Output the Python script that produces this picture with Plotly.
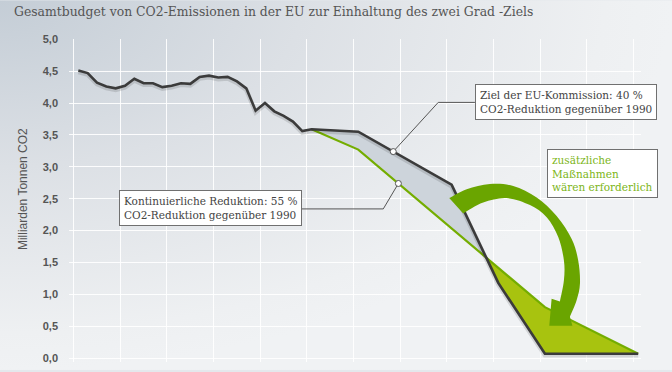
import base64
import numpy as np
import plotly.graph_objects as go

# ---------------- data ----------------
YEARS_HIST = list(range(1990, 2016))
EMISSIONS_HIST = [4.51, 4.47, 4.32, 4.26, 4.23, 4.27, 4.38, 4.31, 4.31, 4.25,
                  4.27, 4.31, 4.30, 4.41, 4.43, 4.40, 4.41, 4.34, 4.23, 3.88,
                  4.00, 3.87, 3.80, 3.71, 3.56, 3.59]

YEARS_EU = [2015, 2020, 2030, 2035, 2040, 2050]
EU_TARGET_PATH = [3.59, 3.55, 2.72, 1.18, 0.07, 0.07]

YEARS_LIN = [2015, 2020, 2040, 2050]
LINEAR_PATH = [3.59, 3.27, 0.80, 0.07]

Y_TICKS = [0, 0.5, 1, 1.5, 2, 2.5, 3, 3.5, 4, 4.5, 5]
X_GRID = [1989.5 + 5 * k for k in range(13)]

TITLE = "Gesamtbudget von CO2-Emissionen in der EU zur Einhaltung des zwei Grad -Ziels"
Y_TITLE = "Milliarden Tonnen CO2"
BOX_EU = "Ziel der EU-Kommission: 40 %<br>CO2-Reduktion gegenüber 1990"
BOX_LIN = "Kontinuierliche Reduktion: 55 %<br>CO2-Reduktion gegenüber 1990"
BOX_EXTRA = "zusätzliche<br>Maßnahmen<br>wären erforderlich"

# decorative curved arrow outline (year, value)
ARROW_OUTER = [(2029.75, 2.51), (2031.62, 2.65), (2034.11, 2.73), (2036.61, 2.70),
               (2039.12, 2.52), (2041.26, 2.23), (2042.87, 1.87), (2043.57, 1.53),
               (2043.76, 1.17), (2043.40, 0.91), (2042.68, 0.65)]
ARROW_HEAD = [(2042.95, 0.51), (2040.47, 0.51), (2040.72, 0.93)]
ARROW_INNER = [(2041.61, 0.89), (2042.04, 1.22), (2042.04, 1.53), (2041.43, 1.90),
               (2040.19, 2.21), (2038.40, 2.40), (2035.90, 2.51), (2033.39, 2.44),
               (2031.25, 2.27)]

# ---------------- colours / fonts ----------------
C_DARK = "#3b3b3b"
C_GREEN = "#74ad00"
C_ARROW = "#6aa500"
C_FILL_GREY = "#cdd4db"
C_FILL_GREEN = "#a8c30f"
C_TEXT = "#555555"
SERIF = "DejaVu Serif"
SANS = "Liberation Sans"

# ---------------- crossing of the two paths ----------------
grid = np.array(sorted(set(YEARS_EU) | set(YEARS_LIN)), dtype=float)
eu_g = np.interp(grid, YEARS_EU, EU_TARGET_PATH)
li_g = np.interp(grid, YEARS_LIN, LINEAR_PATH)
diff = eu_g - li_g
cross_x = None
for i in range(len(grid) - 1):
    if diff[i] > 0 and diff[i + 1] <= 0:
        t = diff[i] / (diff[i] - diff[i + 1])
        cross_x = grid[i] + t * (grid[i + 1] - grid[i])
        break


def seg(xs, ys, a, b):
    px = [a] + [x for x in xs if a < x < b] + [b]
    py = [float(np.interp(x, xs, ys)) for x in px]
    return px, py


eu_a_x, eu_a_y = seg(YEARS_EU, EU_TARGET_PATH, YEARS_EU[0], cross_x)
li_a_x, li_a_y = seg(YEARS_LIN, LINEAR_PATH, YEARS_LIN[0], cross_x)
grey_x = eu_a_x + li_a_x[::-1]
grey_y = eu_a_y + li_a_y[::-1]

eu_b_x, eu_b_y = seg(YEARS_EU, EU_TARGET_PATH, cross_x, YEARS_EU[-1])
li_b_x, li_b_y = seg(YEARS_LIN, LINEAR_PATH, cross_x, YEARS_LIN[-1])
green_x = li_b_x + eu_b_x[::-1]
green_y = li_b_y + eu_b_y[::-1]

all_x = YEARS_HIST + YEARS_EU[1:]
all_y = EMISSIONS_HIST + EU_TARGET_PATH[1:]

fig = go.Figure()
fig.add_trace(go.Scatter(x=grey_x, y=grey_y, fill="toself", fillcolor=C_FILL_GREY,
                         line=dict(width=0), mode="lines", hoverinfo="skip"))
fig.add_trace(go.Scatter(x=green_x, y=green_y, fill="toself", fillcolor=C_FILL_GREEN,
                         line=dict(width=0), mode="lines", hoverinfo="skip"))
fig.add_trace(go.Scatter(x=YEARS_LIN, y=LINEAR_PATH, mode="lines",
                         line=dict(color=C_GREEN, width=2.2)))
# soft drop shadow of the dark line
fig.add_trace(go.Scatter(x=all_x, y=[v - 0.025 for v in all_y], mode="lines",
                         line=dict(color="rgba(0,0,0,0.12)", width=4.5), hoverinfo="skip"))
fig.add_trace(go.Scatter(x=all_x, y=all_y, mode="lines",
                         line=dict(color=C_DARK, width=2.6)))


# smooth arrow (Catmull-Rom -> cubic Bezier)
def smooth(pts):
    out = ""
    n = len(pts)
    for i in range(n - 1):
        p0 = pts[max(i - 1, 0)]
        p1 = pts[i]
        p2 = pts[i + 1]
        p3 = pts[min(i + 2, n - 1)]
        c1 = (p1[0] + (p2[0] - p0[0]) / 6, p1[1] + (p2[1] - p0[1]) / 6)
        c2 = (p2[0] - (p3[0] - p1[0]) / 6, p2[1] - (p3[1] - p1[1]) / 6)
        out += f" C {c1[0]},{c1[1]} {c2[0]},{c2[1]} {p2[0]},{p2[1]}"
    return out


path = f"M {ARROW_OUTER[0][0]},{ARROW_OUTER[0][1]}" + smooth(ARROW_OUTER)
path += "".join(f" L {x},{y}" for x, y in ARROW_HEAD)
path += f" L {ARROW_INNER[0][0]},{ARROW_INNER[0][1]}" + smooth(ARROW_INNER) + " Z"
fig.add_shape(type="path", path=path, xref="x", yref="y",
              fillcolor=C_ARROW, line=dict(width=0), layer="above")

# leader lines + circles
c1x = 2023.75
c1y = float(np.interp(c1x, YEARS_EU, EU_TARGET_PATH))
c2x = 2024.3
c2y = float(np.interp(c2x, YEARS_LIN, LINEAR_PATH))
fig.add_trace(go.Scatter(x=[c1x, 2028.57, 2032.5], y=[c1y, 4.01, 4.01], mode="lines",
                         line=dict(color="#555", width=1)))
fig.add_trace(go.Scatter(x=[c2x, 2022.68, 2013.94], y=[c2y, 2.34, 2.34], mode="lines",
                         line=dict(color="#555", width=1)))
fig.add_trace(go.Scatter(x=[c1x, c2x], y=[c1y, c2y], mode="markers",
                         marker=dict(size=6, color="white", line=dict(color="#555", width=1))))

# background gradient
svg = ("<svg xmlns='http://www.w3.org/2000/svg' width='672' height='372' "
       "preserveAspectRatio='none'>"
       "<defs><radialGradient id='g' cx='0' cy='0' r='1'>"
       "<stop offset='0' stop-color='#c4cdd6'/>"
       "<stop offset='0.45' stop-color='#dce0e5'/>"
       "<stop offset='0.9' stop-color='#eef0f2'/>"
       "<stop offset='1' stop-color='#f0f2f4'/>"
       "</radialGradient></defs>"
       "<rect width='672' height='372' fill='url(#g)'/></svg>")
bg = "data:image/svg+xml;base64," + base64.b64encode(svg.encode()).decode()

W, H = 672, 372
ML, MR, MT, MB = 69, 31, 39, 8
PW, PH = W - ML - MR, H - MT - MB
fig.add_layout_image(source=bg, xref="paper", yref="paper",
                     x=-ML / PW, y=1 + MT / PH, sizex=W / PW, sizey=H / PH,
                     xanchor="left", yanchor="top", sizing="stretch", layer="below")

box_font = dict(family=SERIF, size=10.5, color="#444")
fig.add_annotation(x=2032.5, y=4.01, xref="x", yref="y", xanchor="left", yanchor="middle",
                   text=BOX_EU, showarrow=False, align="left", font=box_font,
                   bgcolor="white", bordercolor="#707070", borderwidth=1, borderpad=4)
fig.add_annotation(x=2013.94, y=2.35, xref="x", yref="y", xanchor="right", yanchor="middle",
                   text=BOX_LIN, showarrow=False, align="left", font=box_font,
                   bgcolor="white", bordercolor="#707070", borderwidth=1, borderpad=4)
fig.add_annotation(x=2040.19, y=2.89, xref="x", yref="y", xanchor="left", yanchor="middle",
                   text=BOX_EXTRA, showarrow=False, align="left",
                   font=dict(family=SERIF, size=10.5, color="#7cb518"),
                   bgcolor="white", bordercolor="#707070", borderwidth=1, borderpad=4)

fig.add_annotation(x=(23 - ML) / PW, y=(H - MB - 190) / PH, xref="paper", yref="paper",
                   xanchor="center", yanchor="middle",
                   text=Y_TITLE, textangle=-90, showarrow=False,
                   font=dict(family=SANS, size=12, color=C_TEXT))

fig.update_layout(
    width=W, height=H, margin=dict(l=ML, r=MR, t=MT, b=MB),
    paper_bgcolor="#e4e8ec", plot_bgcolor="rgba(0,0,0,0)",
    showlegend=False, separators=",.",
    title=dict(text=TITLE, x=14 / W, xanchor="left", y=1 - 12 / H, yanchor="middle",
               font=dict(family=SERIF, size=12.4, color=C_TEXT)),
    xaxis=dict(range=[1989.0, 2050.3], tickvals=X_GRID, showticklabels=False,
               showgrid=True, gridcolor="rgba(255,255,255,0.9)", gridwidth=1,
               zeroline=False, showline=False, ticks=""),
    yaxis=dict(range=[-0.06, 5.004], tickvals=Y_TICKS, tickformat=".1f",
               showgrid=True, gridcolor="rgba(255,255,255,0.9)", gridwidth=1,
               zeroline=False, showline=False, ticks="", ticklabelstandoff=10,
               tickfont=dict(family=SANS, size=11, color=C_TEXT, weight="bold")),
)

fig.write_html("out.html", config={"displayModeBar": False},
               post_script="document.body.style.margin='0';")
